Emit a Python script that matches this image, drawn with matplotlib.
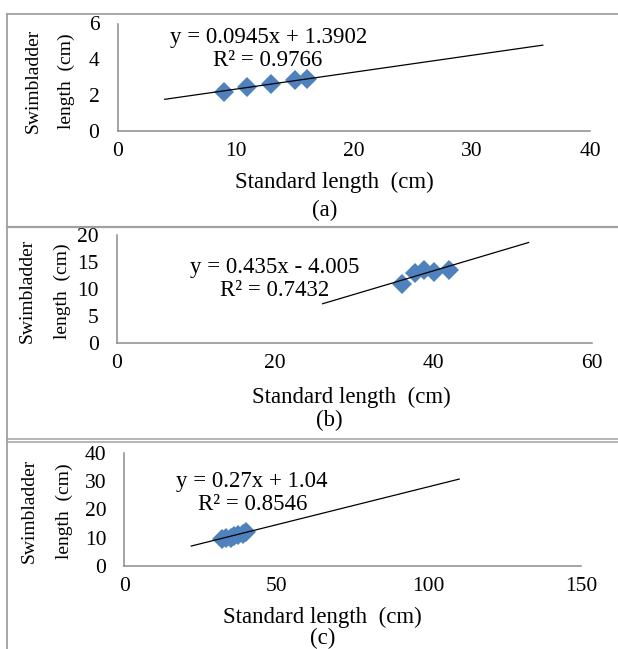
import matplotlib
matplotlib.use('Agg')
import matplotlib.pyplot as plt
from matplotlib.lines import Line2D

plt.rcParams['font.family'] = ['Liberation Serif', 'DejaVu Serif']

# --- data ---
# (a)
sl_a = [9, 11, 13, 15, 16]
sb_a = [2.2, 2.45, 2.65, 2.85, 2.9]
xticks_a = [0, 10, 20, 30, 40]
yticks_a = [0, 2, 4, 6]
fit_a = (0.0945, 1.3902)
fit_x_a = [4, 36]
eq_a = 'y = 0.0945x + 1.3902'
r2_a = 'R² = 0.9766'

# (b)
sl_b = [36, 37.7, 38.8, 40, 42]
sb_b = [11, 13, 13.5, 13.1, 13.5]
xticks_b = [0, 20, 40, 60]
yticks_b = [0, 5, 10, 15, 20]
fit_b = (0.435, -4.005)
fit_x_b = [26, 52]
eq_b = 'y = 0.435x - 4.005'
r2_b = 'R² = 0.7432'

# (c)
sl_c = [32, 33.5, 35, 36, 37.5, 39, 40]
sb_c = [9.6, 9.9, 9.7, 10.4, 10.8, 11.3, 12.1]
xticks_c = [0, 50, 100, 150]
yticks_c = [0, 10, 20, 30, 40]
fit_c = (0.27, 1.04)
fit_x_c = [22, 110]
eq_c = 'y = 0.27x + 1.04'
r2_c = 'R² = 0.8546'

xlabel = 'Standard length  (cm)'
ylabel1 = 'Swimbladder'
ylabel2 = 'length  (cm)'

W, H = 618, 649
BLUE = '#4F81BD'
AXIS_GREY = '#8c8c8c'
BOX_GREY = '#a0a0a0'
FS_TICK = 15.5
FS_TXT = 16.5


def fx(px):
    return px / W


def fy(py):
    return 1 - py / H


fig = plt.figure(figsize=(W / 100, H / 100), dpi=100)

# layout in pixels: axes box, text anchors
panels = [
    dict(x=sl_a, y=sb_a, xt=xticks_a, yt=yticks_a, fit=fit_a, fx_=fit_x_a,
         eq=eq_a, r2=r2_a, tag='(a)',
         box=(117.5, 23.5, 590, 131), eqpos=(269, 37), r2pos=(268, 60),
         ylab=(33, 66, 81), xlab=(334, 182), tagpos=(325, 210)),
    dict(x=sl_b, y=sb_b, xt=xticks_b, yt=yticks_b, fit=fit_b, fx_=fit_x_b,
         eq=eq_b, r2=r2_b, tag='(b)',
         box=(116.7, 235, 592, 343.3), eqpos=(275, 267), r2pos=(275, 290),
         ylab=(27, 62, 291), xlab=(351, 397), tagpos=(329, 420)),
    dict(x=sl_c, y=sb_c, xt=xticks_c, yt=yticks_c, fit=fit_c, fx_=fit_x_c,
         eq=eq_c, r2=r2_c, tag='(c)',
         box=(124.3, 453, 581, 565.7), eqpos=(252, 482), r2pos=(253, 505),
         ylab=(29, 64, 511), xlab=(322, 617), tagpos=(323, 638)),
]

for p in panels:
    l, t, r, b = p['box']
    ax = fig.add_axes([fx(l), fy(b), (r - l) / W, (b - t) / H])
    ax.set_xlim(p['xt'][0], p['xt'][-1])
    ax.set_ylim(p['yt'][0], p['yt'][-1])
    ax.set_xticks(p['xt'])
    ax.set_yticks(p['yt'])
    ax.tick_params(length=0, labelsize=FS_TICK)
    ax.tick_params(axis='x', pad=8)
    ax.tick_params(axis='y', pad=13)
    for s in ['top', 'right']:
        ax.spines[s].set_visible(False)
    for s in ['left', 'bottom']:
        ax.spines[s].set_color(AXIS_GREY)
        ax.spines[s].set_linewidth(1.1)
    ax.patch.set_alpha(0)

    # trendline from the printed equation
    m, c0 = p['fit']
    xs = p['fx_']
    ax.plot(xs, [m * v + c0 for v in xs], color='black', lw=0.9, zorder=3)
    ax.plot(p['x'], p['y'], linestyle='none', marker='D', markersize=10,
            color=BLUE, markeredgewidth=0, zorder=2)

    fig.text(fx(p['eqpos'][0]), fy(p['eqpos'][1]), p['eq'], fontsize=FS_TXT,
             ha='center', va='center')
    fig.text(fx(p['r2pos'][0]), fy(p['r2pos'][1]), p['r2'], fontsize=FS_TXT,
             ha='center', va='center')
    c1, c2, cy = p['ylab']
    fig.text(fx(c1), fy(cy), ylabel1, fontsize=14, rotation=90,
             ha='center', va='center')
    fig.text(fx(c2), fy(cy), ylabel2, fontsize=14, rotation=90,
             ha='center', va='center')
    fig.text(fx(p['xlab'][0]), fy(p['xlab'][1]), xlabel, fontsize=FS_TXT,
             ha='center', va='center')
    fig.text(fx(p['tagpos'][0]), fy(p['tagpos'][1]), p['tag'], fontsize=FS_TXT,
             ha='center', va='center')

# panel frames
frame = [((7, 14), (618, 14), 1.3), ((7, 14), (7, 649), 1.3),
         ((7, 227), (618, 227), 1.6), ((7, 439), (618, 439), 1.1),
         ((7, 441.5), (618, 441.5), 1.1)]
for (x0, y0), (x1, y1), lw in frame:
    fig.add_artist(Line2D([fx(x0), fx(x1)], [fy(y0), fy(y1)],
                          color=BOX_GREY, lw=lw))

fig.savefig('out.png', dpi=100)
